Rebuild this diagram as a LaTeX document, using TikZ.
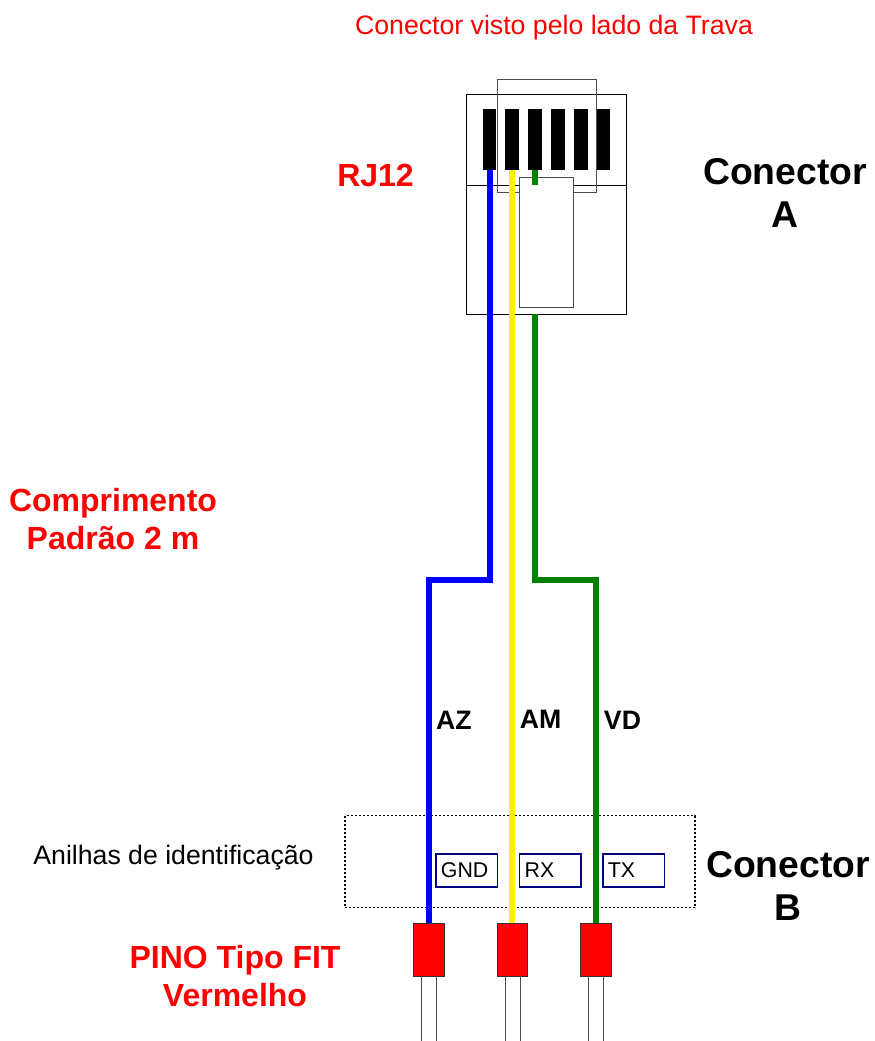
\documentclass[tikz,border=0pt]{standalone}
\usepackage{fontspec}
\setmainfont{Liberation Sans}
\usetikzlibrary{fit}
\definecolor{wgreen}{RGB}{0,128,0}
\definecolor{lnavy}{RGB}{0,0,128}
\tikzset{
  px/.style={x=0.75pt,y=-0.75pt},
  boxbase/.style={inner sep=0pt,outer sep=0pt,rectangle},
  plainbox/.style={boxbase,draw=black,line width=0.6pt,fill=white},
  openbox/.style={boxbase,draw=black!70,line width=0.7pt},
  latchbox/.style={boxbase,draw=black!70,line width=0.7pt,fill=white},
  contact/.style={boxbase,fill=black},
  pin/.style={boxbase,fill=red,draw=black!80,line width=0.7pt},
  tagbox/.style={boxbase,draw=lnavy,line width=0.9pt,fill=white},
  groupbox/.style={boxbase,draw=black,line width=1.1pt,dash pattern=on 1.5pt off 1.5pt},
  wire/.style={line width=4.5pt,line join=miter},
  leg/.style={draw=black!70,line width=0.7pt},
  big/.style={font=\bfseries\fontsize{28}{32}\selectfont,align=center,inner sep=0pt},
  redbig/.style={font=\bfseries\fontsize{24}{29}\selectfont,text=red,align=center,inner sep=0pt},
  wlabel/.style={font=\bfseries\fontsize{20}{24}\selectfont,inner sep=0pt},
  tagtext/.style={font=\fontsize{16}{18}\selectfont,inner sep=0pt,anchor=west},
  plain/.style={font=\fontsize{20}{24}\selectfont,inner sep=0pt}
}
\begin{document}
\begin{tikzpicture}[px]
\useasboundingbox (0,0) rectangle (874,1041);
% connector A
\node[plainbox,fit={(466.5,94)(626.3,185)}] (upper) {};
\node[contact,fit={(482.7,109.3)(496.3,170)}] (c1) {};
\node[contact,fit={(505.3,109.3)(519,170)}] (c2) {};
\node[contact,fit={(528.3,109.3)(541.7,170)}] (c3) {};
\node[contact,fit={(551,109.3)(564.5,170)}] (c4) {};
\node[contact,fit={(574,109.3)(587.5,170)}] (c5) {};
\node[contact,fit={(596.7,109.3)(610,170)}] (c6) {};
\node[plainbox,fit={(466.5,185)(626.3,314.3)}] (lower) {};
\node[openbox,fit={(497,79)(596,192.7)}] (clip) {};
\node[latchbox,fit={(519.7,177.5)(573,307)}] (latch) {};
% pins
\node[pin,fit={(413.5,923)(444,976)}] (p1) {};
\node[pin,fit={(497,923)(527.5,976)}] (p2) {};
\node[pin,fit={(580.5,923)(611,976)}] (p3) {};
% group and tags
\node[groupbox,fit={(345,815.7)(695,907.7)}] (group) {};
\coordinate (bend) at (0,580);
% wires
\draw[wire,blue] (c1.south) -- (c1.south |- bend) -- (p1.north |- bend) -- (p1.north);
\draw[wire,yellow] (c2.south) -- (p2.north -| c2.south);
\draw[wire,wgreen] (c3.south) -- (c3.south |- upper.south);
\draw[wire,wgreen] (c3.south |- lower.south) -- (c3.south |- bend) -- (p3.north |- bend) -- (p3.north);
\node[tagbox,fit={(436,854)(497.5,887)}] (t1) {};
\node[tagbox,fit={(519.7,854)(581,887)}] (t2) {};
\node[tagbox,fit={(603,854)(664.5,887)}] (t3) {};
\node[tagtext] (t1text) at ([xshift=3.5pt]t1.west) {GND};
\node[tagtext] (t2text) at ([xshift=3.5pt]t2.west) {RX};
\node[tagtext] (t3text) at ([xshift=3.5pt]t3.west) {TX};
% legs
\foreach \n/\a/\b in {p1/421/436.5,p2/505/520,p3/588/603}{
  \coordinate (\n la) at (\a,1041);
  \coordinate (\n lb) at (\b,1041);
  \draw[leg] (\n.south -| \n la) -- (\n la);
  \draw[leg] (\n.south -| \n lb) -- (\n lb);
}
% labels
\node[font=\fontsize{20}{24}\selectfont,text=red,inner sep=0pt] (title) at (554,28) {Conector visto pelo lado da Trava};
\node[redbig] (rj) at (375.5,175) {RJ12};
\node[big] (ca) at (785,193) {Conector\\A};
\node[redbig] (comp) at (113,519) {Comprimento\\Padrão 2 m};
\node[wlabel] (az) at (454,720) {AZ};
\node[wlabel] (am) at (540.5,719) {AM};
\node[wlabel] (vd) at (622.5,720) {VD};
\node[plain] (an) at (173.5,858) {Anilhas de identificação};
\node[big] (cb) at (788,886) {Conector\\B};
\node[redbig] (pino) at (235,976) {PINO Tipo FIT\\Vermelho};
\end{tikzpicture}
\end{document}
